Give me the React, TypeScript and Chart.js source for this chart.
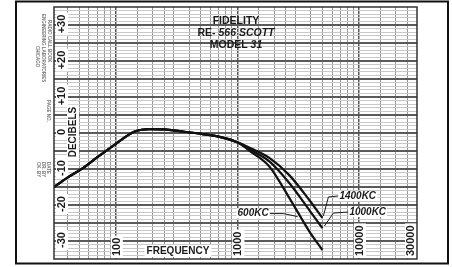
import React, { useEffect, useRef } from "react";
import { Chart, registerables } from "chart.js";

Chart.register(...registerables);

// ---- data ----
const COMMON_FREQ = [31, 40, 54, 70, 100, 143, 190, 250, 335, 517, 700, 1000];
const COMMON_DB = [-15, -12.4, -9.7, -6.8, -3, 0.4, 1.1, 1.0, 0.5, -0.3, -1.0, -2.6];
const TAIL_FREQ = [1300, 1830, 2670, 3900, 5000];
const DB_1400 = [-4.3, -6.9, -11.7, -18.6, -23.6];
const DB_1000 = [-4.8, -7.9, -13.9, -21.4, -26.4];
const DB_600 = [-5.3, -9.3, -18.0, -27.3, -32.5];
const SERIES_NAMES = ["1400KC", "1000KC", "600KC"];

const Y_TICK_VALUES = [30, 20, 10, 0, -10, -20, -30];
const Y_TICK_LABELS = ["+30", "+20", "+10", "0", "-10", "-20", "-30"];
const X_TICK_VALUES = [100, 1000, 10000, 30000];
const X_TICK_LABELS = ["100", "1000", "10000", "30000"];
const GRID_MULTIPLES = [1, 1.5, 2, 2.5, 3, 4, 5, 6, 7, 8, 9];
const DECADES = [10, 100, 1000, 10000];

const X_MIN = 31;
const X_MAX = 30000;
const Y_MIN = -35;
const Y_MAX = 35;

const TITLE_LINES = ["FIDELITY", "RE- 566 SCOTT", "MODEL 31"];

const FONT = '"Liberation Sans Narrow", "Liberation Sans", Arial, sans-serif';

function toPoints(freqs: number[], dbs: number[]) {
  return freqs.map((f, i) => ({ x: f, y: dbs[i] }));
}

function seriesPoints(tail: number[]) {
  return toPoints(COMMON_FREQ.concat(TAIL_FREQ), COMMON_DB.concat(tail));
}

function vText(
  ctx: CanvasRenderingContext2D,
  text: string,
  x: number,
  y: number,
  align: CanvasTextAlign,
  bg: boolean
) {
  ctx.save();
  ctx.translate(x, y);
  ctx.rotate(-Math.PI / 2);
  ctx.textAlign = align;
  ctx.textBaseline = "middle";
  if (bg) {
    const w = ctx.measureText(text).width;
    const x0 = align === "center" ? -w / 2 : align === "left" ? 0 : -w;
    ctx.fillStyle = "#ffffff";
    ctx.fillRect(x0 - 2, -6, w + 4, 12);
  }
  ctx.fillStyle = "#1a1a1a";
  ctx.fillText(text, 0, 0);
  ctx.restore();
}

const paperPlugin = {
  id: "paper",
  beforeDraw(chart: any) {
    const ctx = chart.ctx as CanvasRenderingContext2D;
    ctx.save();
    ctx.fillStyle = "#ffffff";
    ctx.fillRect(0, 0, chart.width, chart.height);
    ctx.restore();
  },
  beforeDatasetsDraw(chart: any) {
    const ctx = chart.ctx as CanvasRenderingContext2D;
    const xs = chart.scales.x;
    const ys = chart.scales.y;
    const a = chart.chartArea;
    ctx.save();

    ctx.font = "bold 11px " + FONT;
    Y_TICK_VALUES.forEach((v, i) => {
      vText(ctx, Y_TICK_LABELS[i], a.left + 8, ys.getPixelForValue(v) - 1, "center", true);
    });
    ctx.font = "bold 10px " + FONT;
    vText(ctx, "DECIBELS", a.left + 19, ys.getPixelForValue(0) - 1, "center", true);

    ctx.font = "bold 11px " + FONT;
    X_TICK_VALUES.forEach((v, i) => {
      const px = xs.getPixelForValue(v);
      const shift = px > a.right - 8 ? -6 : 1;
      vText(ctx, X_TICK_LABELS[i], px + shift, a.bottom - 3, "left", true);
    });

    ctx.font = "bold 10px " + FONT;
    ctx.textAlign = "center";
    ctx.textBaseline = "middle";
    const fw = ctx.measureText("FREQUENCY").width;
    const fx = 178;
    const fy = a.bottom - 8;
    ctx.fillStyle = "#ffffff";
    ctx.fillRect(fx - fw / 2 - 2, fy - 6, fw + 4, 12);
    ctx.fillStyle = "#1a1a1a";
    ctx.fillText("FREQUENCY", fx, fy);

    const cx = 236;
    ctx.font = "bold 10.5px " + FONT;
    ctx.textAlign = "center";
    ctx.fillText(TITLE_LINES[0], cx, 21);
    const p1 = "RE- ";
    const p2 = "566 SCOTT";
    ctx.font = "bold 10.5px " + FONT;
    const w1 = ctx.measureText(p1).width;
    ctx.font = "italic bold 10.5px " + FONT;
    const w2 = ctx.measureText(p2).width;
    let sx = cx - (w1 + w2) / 2;
    ctx.textAlign = "left";
    ctx.font = "bold 10.5px " + FONT;
    ctx.fillText(p1, sx, 33);
    ctx.font = "italic bold 10.5px " + FONT;
    ctx.fillText(p2, sx + w1, 33);
    const q1 = "MODEL ";
    const q2 = "31";
    ctx.font = "bold 10.5px " + FONT;
    const v1 = ctx.measureText(q1).width;
    ctx.font = "italic bold 10.5px " + FONT;
    const v2 = ctx.measureText(q2).width;
    sx = cx - (v1 + v2) / 2;
    ctx.font = "bold 10.5px " + FONT;
    ctx.fillText(q1, sx, 45);
    ctx.font = "italic bold 10.5px " + FONT;
    ctx.fillText(q2, sx + v1, 45);

    const end1400 = { x: xs.getPixelForValue(5000), y: ys.getPixelForValue(DB_1400[4]) };
    const end1000 = { x: xs.getPixelForValue(5000), y: ys.getPixelForValue(DB_1000[4]) };
    const p600 = { x: xs.getPixelForValue(3250), y: ys.getPixelForValue(-23.5) };
    ctx.strokeStyle = "#1a1a1a";
    ctx.lineWidth = 1;
    ctx.beginPath();
    ctx.moveTo(end1400.x + 1, end1400.y - 2);
    ctx.lineTo(end1400.x + 6, end1400.y - 21);
    ctx.lineTo(end1400.x + 16, end1400.y - 22);
    ctx.moveTo(end1000.x + 2, end1000.y - 2);
    ctx.lineTo(end1000.x + 11, end1000.y - 15);
    ctx.lineTo(end1000.x + 26, end1000.y - 16);
    ctx.moveTo(p600.x - 2, p600.y - 1);
    ctx.lineTo(p600.x - 16, p600.y - 4);
    ctx.lineTo(p600.x - 30, p600.y - 4);
    ctx.stroke();

    ctx.font = "italic bold 10px " + FONT;
    ctx.textBaseline = "middle";
    ctx.textAlign = "left";
    const lw1 = ctx.measureText(SERIES_NAMES[0]).width;
    ctx.fillStyle = "#ffffff";
    ctx.fillRect(end1400.x + 16, end1400.y - 27, lw1 + 2, 10);
    ctx.fillStyle = "#1a1a1a";
    ctx.fillText(SERIES_NAMES[0], end1400.x + 17, end1400.y - 22);
    const lw2 = ctx.measureText(SERIES_NAMES[1]).width;
    ctx.fillStyle = "#ffffff";
    ctx.fillRect(end1000.x + 26, end1000.y - 21, lw2 + 2, 10);
    ctx.fillStyle = "#1a1a1a";
    ctx.fillText(SERIES_NAMES[1], end1000.x + 27, end1000.y - 16);
    ctx.textAlign = "right";
    const lw3 = ctx.measureText(SERIES_NAMES[2]).width;
    ctx.fillStyle = "#ffffff";
    ctx.fillRect(p600.x - 32 - lw3, p600.y - 9, lw3 + 2, 10);
    ctx.fillStyle = "#1a1a1a";
    ctx.fillText(SERIES_NAMES[2], p600.x - 31, p600.y - 4);
    ctx.restore();
  },
  afterDraw(chart: any) {
    const ctx = chart.ctx as CanvasRenderingContext2D;
    const a = chart.chartArea;
    ctx.save();
    ctx.strokeStyle = "#333333";
    ctx.lineWidth = 1.5;
    ctx.strokeRect(a.left, a.top, a.right - a.left, a.bottom - a.top);
    ctx.strokeStyle = "#111111";
    ctx.lineWidth = 2;
    ctx.strokeRect(16, 1.5, 432, 262);

    ctx.fillStyle = "#777777";
    ctx.font = "bold 4.5px " + FONT;
    const small = (t: string, x: number, y: number) => {
      ctx.save();
      ctx.translate(x, y);
      ctx.rotate(Math.PI / 2);
      ctx.textAlign = "left";
      ctx.textBaseline = "middle";
      ctx.fillText(t, 0, 0);
      ctx.restore();
    };
    small("RADIO CALL BOOK", 49, 20);
    small("ENGINEERING LABORATORIES", 43, 14);
    small("CHICAGO", 37, 46);
    small("PAGE NO.", 48, 100);
    small("DATE", 48, 162);
    small("DR. BY", 43, 162);
    small("CK. BY", 38, 162);
    ctx.restore();
  },
};

export default function App() {
  const ref = useRef<HTMLCanvasElement | null>(null);

  useEffect(() => {
    if (!ref.current) return;
    const xTicks: number[] = [];
    DECADES.forEach((d) =>
      GRID_MULTIPLES.forEach((m) => {
        const v = d * m;
        if (v > X_MIN && v < X_MAX) xTicks.push(v);
      })
    );
    const yTicks: number[] = [];
    for (let v = Y_MIN + 1; v < Y_MAX; v++) yTicks.push(v);

    const lineStyle = {
      borderColor: "#111111",
      borderWidth: 2.2,
      pointRadius: 0,
      fill: false,
      cubicInterpolationMode: "monotone" as const,
    };

    const chart = new Chart(ref.current, {
      type: "line",
      data: {
        datasets: [
          { label: SERIES_NAMES[0], data: seriesPoints(DB_1400), ...lineStyle },
          { label: SERIES_NAMES[1], data: seriesPoints(DB_1000), ...lineStyle },
          { label: SERIES_NAMES[2], data: seriesPoints(DB_600), ...lineStyle },
        ],
      },
      options: {
        responsive: false,
        animation: false,
        parsing: false as any,
        layout: { padding: { left: 54, right: 35, top: 7, bottom: 8 } },
        plugins: {
          legend: { display: false },
          tooltip: { enabled: false },
          title: { display: false },
        },
        scales: {
          x: {
            type: "logarithmic",
            min: X_MIN,
            max: X_MAX,
            border: { display: false },
            ticks: { display: false },
            afterBuildTicks: (scale: any) => {
              scale.ticks = xTicks.map((v) => ({ value: v }));
            },
            grid: {
              drawTicks: false,
              color: (c: any) => {
                const v = c.tick ? c.tick.value : 0;
                return [100, 1000, 10000].includes(v) ? "#555555" : "#969696";
              },
              lineWidth: (c: any) => {
                const v = c.tick ? c.tick.value : 0;
                return [100, 1000, 10000].includes(v) ? 1.5 : 1;
              },
            },
          },
          y: {
            type: "linear",
            min: Y_MIN,
            max: Y_MAX,
            border: { display: false },
            ticks: { display: false },
            afterBuildTicks: (scale: any) => {
              scale.ticks = yTicks.map((v) => ({ value: v }));
            },
            grid: {
              drawTicks: false,
              color: (c: any) => {
                const v = c.tick ? c.tick.value : 0;
                return v % 5 === 0 ? "#5a5a5a" : "#c8c8c8";
              },
              lineWidth: (c: any) => {
                const v = c.tick ? c.tick.value : 0;
                return v % 5 === 0 ? 2 : 1;
              },
            },
          },
        },
      },
      plugins: [paperPlugin],
    });
    return () => chart.destroy();
  }, []);

  return (
    <div style={{ position: "absolute", left: 0, top: 0, width: 452, height: 267 }}>
      <canvas ref={ref} width={452} height={267} style={{ display: "block" }} />
    </div>
  );
}
